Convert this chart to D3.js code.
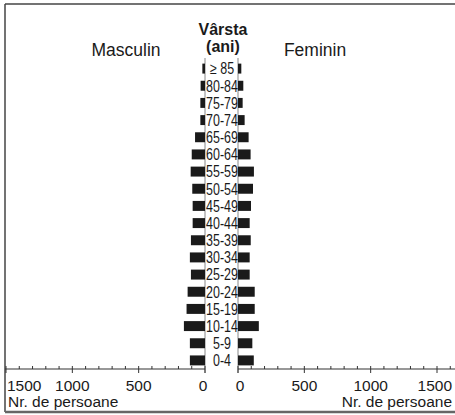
<!DOCTYPE html>
<html><head><meta charset="utf-8">
<script src="https://cdn.jsdelivr.net/npm/d3@7"></script>
<style>
html,body{margin:0;padding:0;background:#fff;}
svg{display:block;}
text{font-family:"Liberation Sans",Arial,sans-serif;fill:#1a1a1a;}
.age{font-size:16px;}
</style></head>
<body>
<script>
const ageGroups = ["≥ 85","80-84","75-79","70-74","65-69","60-64","55-59","50-54","45-49","40-44","35-39","30-34","25-29","20-24","15-19","10-14","5-9","0-4"];
const male   = [20, 33, 35, 35, 75, 100, 108, 96, 93, 93, 106, 114, 106, 131, 139, 159, 114, 114];
const female = [25, 40, 35, 50, 80, 95, 120, 113, 98, 88, 96, 88, 88, 126, 126, 157, 108, 119];
const tickLabels = [0, 500, 1000, 1500];
const minorTicks = d3.range(0, 1700, 100);

const W = 455, H = 415;
const svg = d3.select("body").append("svg").attr("width", W).attr("height", H);

const leftX0 = 205, rightX0 = 238, axisY = 369;
const xL = d3.scaleLinear().domain([0, 1500]).range([leftX0, 6]);
const xR = d3.scaleLinear().domain([0, 1500]).range([rightX0, 437]);
const y = d3.scaleBand().domain(ageGroups).range([60, axisY]).paddingInner(0.42).paddingOuter(0.21);

// frame
svg.append("line").attr("x1", 5).attr("x2", W).attr("y1", 4).attr("y2", 4).attr("stroke", "#444").attr("stroke-width", 1.5);
svg.append("line").attr("x1", 5).attr("x2", 5).attr("y1", 4).attr("y2", 412).attr("stroke", "#444").attr("stroke-width", 1.5);
svg.append("line").attr("x1", 5).attr("x2", W).attr("y1", 412).attr("y2", 412).attr("stroke", "#666").attr("stroke-width", 2.5);

// center vertical lines
[leftX0, rightX0].forEach(x => svg.append("line").attr("x1", x).attr("x2", x).attr("y1", 58).attr("y2", axisY + 4)
  .attr("stroke", "#888").attr("stroke-width", 1));

// bars
svg.append("g").selectAll("rect").data(ageGroups).join("rect")
  .attr("x", (d, i) => xL(male[i])).attr("y", d => y(d))
  .attr("width", (d, i) => leftX0 - xL(male[i])).attr("height", y.bandwidth())
  .attr("fill", "#1a1a1a");
svg.append("g").selectAll("rect").data(ageGroups).join("rect")
  .attr("x", rightX0).attr("y", d => y(d))
  .attr("width", (d, i) => xR(female[i]) - rightX0).attr("height", y.bandwidth())
  .attr("fill", "#1a1a1a");

// age labels (horizontally condensed)
const cx = (leftX0 + rightX0) / 2 + 0.5;
svg.append("g").selectAll("text").data(ageGroups).join("text").attr("class", "age")
  .attr("transform", d => `translate(${cx},${y(d) + y.bandwidth() / 2}) scale(0.78,1)`)
  .attr("dy", "0.36em")
  .attr("text-anchor", "middle").text(d => d);

// axes
function drawAxis(scale, x1, x2, side) {
  const g = svg.append("g");
  g.append("line").attr("x1", x1).attr("x2", x2).attr("y1", axisY).attr("y2", axisY).attr("stroke", "#333").attr("stroke-width", 1.2);
  g.selectAll("line.t").data(minorTicks.filter(v => side === "R" || v <= 1500)).join("line").attr("class", "t")
    .attr("x1", d => scale(d)).attr("x2", d => scale(d))
    .attr("y1", axisY - 3).attr("y2", d => d % 500 === 0 ? axisY + 4 : axisY)
    .attr("stroke", "#333").attr("stroke-width", 1);
  g.selectAll("text").data(tickLabels).join("text")
    .attr("x", d => {
      if (side === "L" && d === 1500) return 7;
      if (side === "R" && d === 1500) return 452;
      if (d === 0) return scale(d) + (side === "L" ? -2 : 2);
      return scale(d);
    })
    .attr("y", 391)
    .attr("text-anchor", d => d === 1500 ? (side === "L" ? "start" : "end") : "middle")
    .style("font-size", "15.5px").text(d => d);
}
drawAxis(xL, leftX0, 5, "L");
drawAxis(xR, rightX0, W, "R");

svg.append("text").attr("x", 8).attr("y", 407).style("font-size", "15.5px").text("Nr. de persoane");
svg.append("text").attr("x", 452).attr("y", 407).attr("text-anchor", "end").style("font-size", "15.5px").text("Nr. de persoane");

// titles
svg.append("text").attr("x", 126).attr("y", 56).attr("text-anchor", "middle").style("font-size", "17.5px").text("Masculin");
svg.append("text").attr("x", 315).attr("y", 56).attr("text-anchor", "middle").style("font-size", "17.5px").text("Feminin");
svg.append("text").attr("x", 223).attr("y", 35).attr("text-anchor", "middle").style("font-size", "16px").style("font-weight", "bold").text("Vârsta");
svg.append("text").attr("x", 223).attr("y", 52).attr("text-anchor", "middle").style("font-size", "16px").style("font-weight", "bold").text("(ani)");
</script>
</body></html>
